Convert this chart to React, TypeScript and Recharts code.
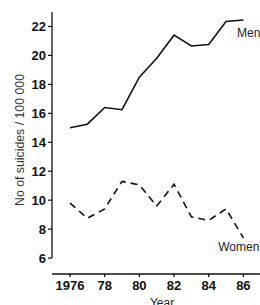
import React from "react";
import { LineChart, Line, XAxis, YAxis, ReferenceLine, LabelList } from "recharts";

const years = [1976, 1977, 1978, 1979, 1980, 1981, 1982, 1983, 1984, 1985, 1986];
const men = [15.0, 15.25, 16.4, 16.25, 18.5, 19.8, 21.4, 20.65, 20.75, 22.35, 22.45];
const women = [9.8, 8.75, 9.4, 11.3, 11.05, 9.6, 11.1, 8.85, 8.6, 9.4, 7.4];
const xTicks = [1976, 1978, 1980, 1982, 1984, 1986];
const xTickLabels = ["1976", "78", "80", "82", "84", "86"];
const yTicks = [6, 8, 10, 12, 14, 16, 18, 20, 22];
const seriesNames = ["Men", "Women"];

const X_MIN = 1974.96;
const X_MAX = 1986.96;
const Y_MIN = 4.9;
const Y_MAX = 23;

const data = years.map((y, i) => ({ year: y, men: men[i], women: women[i] }));

const INK = "#111";
const FONT = "'Liberation Sans', Arial, Helvetica, sans-serif";

const endLabel = (name: string, dx: number, dy: number) => (props: any) => {
  const { x, y, index } = props;
  if (index !== data.length - 1) return null;
  return (
    <text x={x + dx} y={y + dy} textAnchor="end" fontFamily={FONT} fontSize={12} fill="#222" dominantBaseline="middle">
      {name}
    </text>
  );
};

export default function App() {
  return (
    <div style={{ position: "absolute", left: 8, top: 8, width: 252, height: 304 }}>
      <LineChart
        width={252}
        height={304}
        data={data}
        margin={{ top: 4, right: 0, bottom: 0, left: 0 }}
        style={{ fontFamily: FONT }}
      >
        <XAxis
          dataKey="year"
          type="number"
          domain={[X_MIN, X_MAX]}
          ticks={xTicks}
          tickFormatter={(v: number) => xTickLabels[xTicks.indexOf(v)]}
          height={38}
          tickSize={3}
          tickMargin={4}
          stroke={INK}
          strokeWidth={1.3}
          tick={{ fill: INK, fontSize: 13, fontWeight: "bold", fontFamily: FONT }}
          allowDataOverflow
          label={{
            content: (p: any) => {
              const vb = p.viewBox;
              return (
                <text x={vb.x + vb.width / 2 + 6} y={vb.y + 33} textAnchor="middle" fontFamily={FONT} fontSize={12} fill="#222">
                  Year
                </text>
              );
            },
          }}
        />
        <YAxis
          type="number"
          domain={[Y_MIN, Y_MAX]}
          ticks={yTicks}
          width={44}
          axisLine={false}
          tickSize={4}
          tickMargin={2}
          stroke={INK}
          tickLine={{ stroke: INK, strokeWidth: 1.2 }}
          tick={{ fill: INK, fontSize: 13, fontWeight: "bold", fontFamily: FONT }}
          allowDataOverflow
          label={{
            content: (p: any) => {
              const vb = p.viewBox;
              const cx = vb.x + 13;
              const cy = vb.y + vb.height / 2 - 3;
              return (
                <text
                  x={cx}
                  y={cy}
                  transform={`rotate(-90 ${cx} ${cy})`}
                  textAnchor="middle"
                  dominantBaseline="middle"
                  fontFamily={FONT}
                  fontSize={12.3}
                  fill="#333"
                >
                  No of suicides / 100 000
                </text>
              );
            },
          }}
        />
        <ReferenceLine
          segment={[
            { x: X_MIN, y: 6 },
            { x: X_MIN, y: Y_MAX },
          ]}
          stroke={INK}
          strokeWidth={1.3}
          ifOverflow="visible"
        />
        <Line
          dataKey="men"
          stroke={INK}
          strokeWidth={1.6}
          dot={false}
          type="linear"
          isAnimationActive={false}
        >
          <LabelList dataKey="men" content={endLabel(seriesNames[0], 17, 14)} />
        </Line>
        <Line
          dataKey="women"
          stroke={INK}
          strokeWidth={1.6}
          strokeDasharray="7 5"
          dot={false}
          type="linear"
          isAnimationActive={false}
        >
          <LabelList dataKey="women" content={endLabel(seriesNames[1], 16, 10)} />
        </Line>
      </LineChart>
    </div>
  );
}
